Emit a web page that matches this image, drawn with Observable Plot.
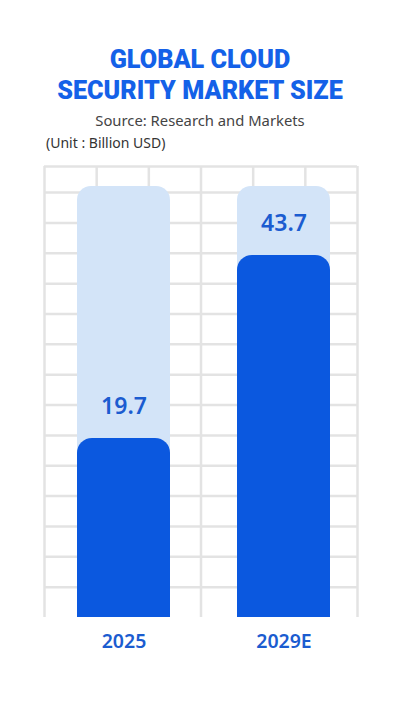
<!DOCTYPE html>
<html><head><meta charset="utf-8">
<script src="https://cdn.jsdelivr.net/npm/d3@7"></script>
<script src="https://cdn.jsdelivr.net/npm/@observablehq/plot@0.6"></script>
<style>
body{margin:0;background:#fff;}
#wrap{position:relative;width:400px;height:701px;overflow:hidden;font-family:"Noto Sans",sans-serif;}
.title{position:absolute;left:0;width:400px;text-align:center;font-family:Roboto,"Noto Sans",sans-serif;font-weight:900;font-size:25.2px;line-height:30px;height:30px;color:#1461e8;}
#t1{top:45px;}
#t2{top:76px;}
#sub{position:absolute;top:109px;left:0;width:400px;text-align:center;font-size:14.8px;line-height:22px;color:#444;}
#unit{position:absolute;top:133px;left:46px;font-size:14px;line-height:20px;color:#333;}
#grid,#bars{position:absolute;left:0;top:150px;}
</style></head><body>
<div id="wrap">
<div class="title" id="t1">GLOBAL CLOUD</div>
<div class="title" id="t2">SECURITY MARKET SIZE</div>
<div id="sub">Source: Research and Markets</div>
<div id="unit">(Unit : Billion USD)</div>
<div id="grid"></div><div id="bars"></div>
</div>
<script>
// Data
const years = ["2025", "2029E"];
const values = [19.7, 43.7];
const valueLabels = ["19.7", "43.7"];
// Background grid ticks
const gridCols = [0, 1, 2, 3, 4, 5, 6];
const gridRows = [1, 2, 3, 4, 5, 6, 7, 8, 9, 10, 11, 12, 13, 14];

const data = years.map((y, i) => ({year: y, value: values[i], label: valueLabels[i]}));

const W = 400, H = 551;
const margins = {marginTop: 16, marginBottom: 84, marginLeft: 44, marginRight: 43};
const gridTop = 14.86;
const yDomain = [-3.78, 55.37];
const trackTop = 52.75;
const base = yDomain[0] - 4;

const dark = "#0b58df", light = "#d3e4f8", labelColor = "#1b5cd0", gridColor = "#e3e3e3";

const grid = Plot.plot({
  width: W, height: H, ...margins,
  x: {domain: [0, 6], axis: null},
  y: {domain: [0, gridTop], axis: null},
  marks: [
    Plot.ruleY(gridRows, {stroke: gridColor, strokeWidth: 2.5}),
    Plot.ruleY([gridTop], {stroke: gridColor, strokeWidth: 2.5}),
    Plot.ruleX(gridCols, {stroke: gridColor, strokeWidth: 2.5})
  ]
});
document.getElementById("grid").append(grid);

const bars = Plot.plot({
  width: W, height: H, ...margins,
  style: {background: "transparent", fontFamily: "Noto Sans, sans-serif"},
  x: {domain: years, paddingInner: 0.417, paddingOuter: 0.184, align: 0.56, axis: null},
  y: {domain: yDomain, axis: null},
  marks: [
    Plot.barY(data, {x: "year", y1: base, y2: trackTop, fill: light, rx: 14, clip: true}),
    Plot.barY(data, {x: "year", y1: base, y2: "value", fill: dark, rx: 15, clip: true}),
    Plot.text(data, {x: "year", y: "value", text: "label", dy: -32, fontSize: 23, fontWeight: 600, fill: labelColor}),
    Plot.text(data, {x: "year", text: "year", frameAnchor: "bottom", dy: 30, fontSize: 19.5, fontWeight: 600, fill: labelColor})
  ]
});
document.getElementById("bars").append(bars);
</script>
</body></html>
